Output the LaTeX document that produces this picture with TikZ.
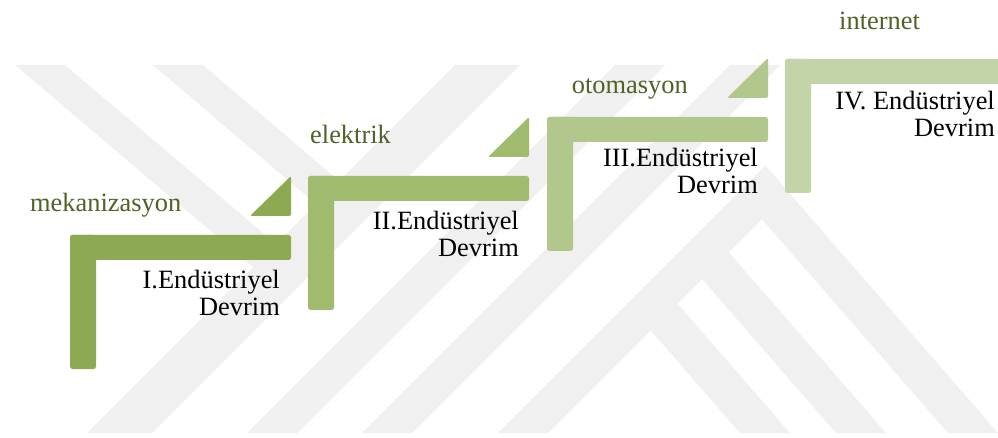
\documentclass[tikz,border=0pt]{standalone}
\usepackage{fontspec}
\setmainfont{Liberation Serif}
\definecolor{wm}{gray}{0.943}
\definecolor{stepA}{HTML}{8DAA52}
\definecolor{stepB}{HTML}{A0BB6E}
\definecolor{stepC}{HTML}{B2C78C}
\definecolor{stepD}{HTML}{C4D4A9}
\definecolor{eragreen}{HTML}{4F6228}
\begin{document}
\begin{tikzpicture}[x=1pt,y=-1pt,
  wmark/.style={fill=wm},
  stagebar/.style={rounded corners=2.5pt},
  stagetext/.style={font=\fontsize{26.4}{27}\selectfont, text=black,
    align=right, inner sep=0pt, anchor=base east},
  eratext/.style={font=\fontsize{26.4}{27}\selectfont, text=eragreen,
    inner sep=0pt, anchor=base west}]
\useasboundingbox (0,0) rectangle (998,438);
\fill[white] (0,0) rectangle (998,438);
\clip (0,0) rectangle (998,438);

% background mark: diagonal bands
\fill[wmark] (455,65) -- (520,65) -- (152,433) -- (87,433) -- cycle;
\fill[wmark] (615,65) -- (665,65) -- (297,433) -- (247,433) -- cycle;
\fill[wmark] (730,65) -- (780,65) -- (412,433) -- (362,433) -- cycle;
\fill[wmark] (15,65) -- (65,65) -- (276,244) -- (253,267) -- cycle;
\fill[wmark] (153,65) -- (203,65) -- (339,181) -- (316,204) -- cycle;
\fill[wmark] (498,433) -- (765.4,165.6) -- (998,433) -- (948,433)
  -- (761.9,219.1) -- (548,433) -- cycle;
\fill[wmark] (728.7,252.3) -- (886,433) -- (836,433) -- (702,279) -- cycle;
\fill[wmark] (677.4,303.6) -- (790,433) -- (740,433) -- (650.7,330.3) -- cycle;

% ascending steps: horizontal bar, vertical bar, small wedge
\foreach \x/\y/\c in {70/235/stepA, 308/176/stepB, 547/117/stepC, 785/59/stepD}{
  \fill[\c, stagebar] (\x,\y) rectangle (\x+221,\y+25);
  \fill[\c, stagebar] (\x,\y) rectangle (\x+26,\y+134);
}
\foreach \x/\y/\c in {70/235/stepA, 308/176/stepB, 547/117/stepC}{
  \fill[\c, rounded corners=2pt] (\x+180,\y-19) -- (\x+221,\y-19) -- (\x+221,\y-59) -- cycle;
}

% stage captions (anchored on the baseline of the last line)
\node[stagetext] (s1) at (280,315.5) {I.Endüstriyel\\Devrim};
\node[stagetext] (s2) at (519,257) {II.Endüstriyel\\Devrim};
\node[stagetext] (s3) at (758,193.5) {III.Endüstriyel\\Devrim};
\node[stagetext] (s4) at (995,137) {IV. Endüstriyel\\Devrim};

% driving technologies
\node[eratext] (e1) at (30,211.7) {mekanizasyon};
\node[eratext] (e2) at (310,144) {elektrik};
\node[eratext] (e3) at (571.7,93.3) {otomasyon};
\node[eratext] (e4) at (839,29.3) {internet};
\end{tikzpicture}
\end{document}
